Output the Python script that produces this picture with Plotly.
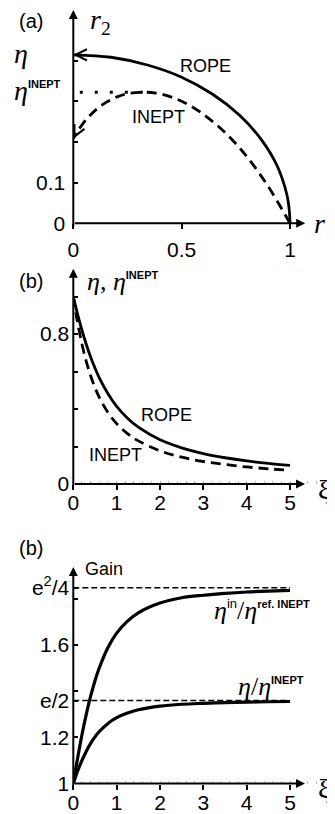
import plotly.graph_objects as go

# ---------------- data ----------------
# Panel (a): trajectories in the (r1, r2) plane
rope_r1 = [1.000, 0.996, 0.985, 0.940, 0.866, 0.766, 0.643, 0.500, 0.342, 0.174, 0.000]
rope_r2 = [0.000, 0.036, 0.072, 0.142, 0.207, 0.266, 0.317, 0.359, 0.389, 0.408, 0.414]
inept_r1 = [1.000, 0.900, 0.802, 0.708, 0.617, 0.532, 0.453, 0.380, 0.322, 0.253,
            0.199, 0.151, 0.109, 0.073, 0.042, 0.016, 0.000]
inept_r2 = [0.000, 0.090, 0.163, 0.219, 0.261, 0.291, 0.310, 0.320, 0.322, 0.319,
            0.310, 0.297, 0.281, 0.263, 0.243, 0.223, 0.208]
eta_level = 0.414
eta_inept_level = 0.322
inept_end = 0.208
dotted_r1 = [0.03, 0.322]
a_xticks = [0, 0.5, 1]
a_xticktext = ["0", "0.5", "1"]
a_yticks = [0, 0.1]
a_yticktext = ["0", "0.1"]
a_yminor = [0.2, 0.3, 0.4]

# Panel (b): efficiencies vs xi
xi = [0, 0.05, 0.1, 0.2, 0.3, 0.4, 0.5, 0.6, 0.8, 1.0, 1.25, 1.5, 2, 2.5, 3, 3.5, 4, 4.5, 5]
eta_rope = [1.000, 0.951, 0.905, 0.820, 0.744, 0.677, 0.618, 0.566, 0.481, 0.414,
            0.351, 0.303, 0.236, 0.193, 0.162, 0.140, 0.123, 0.110, 0.099]
eta_inept = [1.000, 0.926, 0.859, 0.745, 0.653, 0.577, 0.514, 0.462, 0.381, 0.322,
             0.269, 0.230, 0.177, 0.143, 0.120, 0.104, 0.091, 0.081, 0.073]
b_yticks = [0, 0.8]
b_yticktext = ["0", "0.8"]
b_yminor = [0.2, 0.4, 0.6, 1.0]

# Panel (c): gains vs xi
gain_ratio = [1.000, 1.028, 1.054, 1.100, 1.140, 1.174, 1.202, 1.225, 1.260, 1.285,
              1.305, 1.319, 1.335, 1.343, 1.347, 1.350, 1.352, 1.354, 1.355]
gain_in = [1.000, 1.056, 1.110, 1.211, 1.300, 1.378, 1.445, 1.501, 1.589, 1.651,
           1.703, 1.739, 1.781, 1.804, 1.815, 1.823, 1.829, 1.833, 1.836]
e_half = 1.359
e2_quarter = 1.847
limit_xi = [0, 5]
c_yticks = [1, 1.2, e_half, 1.6, e2_quarter]
c_yticktext = ["1", "1.2", "e/2", "1.6", "e<sup>2</sup>/4"]
c_yminor = [1.4, 1.8]
xi_ticks = [0, 1, 2, 3, 4, 5]
xi_ticktext = ["0", "1", "2", "3", "4", "5"]

# ---------------- layout helpers ----------------
W, H = 335, 814
OFF = 8                            # page body margin of the html page (px)
ORIG_X = 73.3                      # screen column of all y axes
SXA, SYA = 216.7, 407.0            # px per unit, panel (a)
SXB, SYB = 43.35, 187.5            # px per unit, panel (b)
SYC = 231.0                        # px per unit, panel (c) y
A_BOT, B_BOT, C_BOT = 223.3, 484.0, 783.5
A_TOP, B_TOP, C_TOP = float(OFF), 264.0, 562.0
SANS = "Liberation Sans"
SERIF = "Liberation Serif"


def px(p):
    return (p - OFF) / W


def py(p):
    return 1 - (p - OFF) / H


X0 = px(ORIG_X)
fig = go.Figure()

solid = dict(color="black", width=2.8)
dashed = dict(color="black", width=2.8, dash="10px,6px")

# panel (a)
fig.add_trace(go.Scatter(x=rope_r1, y=rope_r2, mode="lines", line=dict(solid, shape="spline"),
                         xaxis="x", yaxis="y", hoverinfo="skip"))
fig.add_trace(go.Scatter(x=inept_r1, y=inept_r2, mode="lines", line=dict(dashed, shape="spline"),
                         xaxis="x", yaxis="y", hoverinfo="skip"))
fig.add_trace(go.Scatter(x=dotted_r1, y=[eta_inept_level] * 2, mode="lines",
                         line=dict(color="black", width=3, dash="3px,12px"),
                         xaxis="x", yaxis="y", hoverinfo="skip"))

# panel (b)
fig.add_trace(go.Scatter(x=xi, y=eta_rope, mode="lines", line=dict(solid, shape="spline"),
                         xaxis="x2", yaxis="y2", hoverinfo="skip"))
fig.add_trace(go.Scatter(x=xi, y=eta_inept, mode="lines", line=dict(dashed, shape="spline"),
                         xaxis="x2", yaxis="y2", hoverinfo="skip"))

# panel (c)
thin_dash = dict(color="black", width=1.5, dash="6px,3px")
fig.add_trace(go.Scatter(x=limit_xi, y=[e2_quarter] * 2, mode="lines", line=thin_dash,
                         xaxis="x3", yaxis="y3", hoverinfo="skip"))
fig.add_trace(go.Scatter(x=limit_xi, y=[e_half] * 2, mode="lines", line=thin_dash,
                         xaxis="x3", yaxis="y3", hoverinfo="skip"))
fig.add_trace(go.Scatter(x=xi, y=gain_in, mode="lines",
                         line=dict(color="black", width=3.2, shape="spline"),
                         xaxis="x3", yaxis="y3", hoverinfo="skip"))
fig.add_trace(go.Scatter(x=xi, y=gain_ratio, mode="lines",
                         line=dict(color="black", width=3.2, shape="spline"),
                         xaxis="x3", yaxis="y3", hoverinfo="skip"))

tickfont = dict(family=SANS, size=21, color="black")
common = dict(showgrid=False, zeroline=False, showline=False, tickcolor="black",
              tickwidth=2, tickfont=tickfont, tickmode="array", automargin=False)

x_right = W + OFF                  # screen x of the figure's right edge
xa_range = [0, (x_right - ORIG_X) / SXA]
xb_range = [0, (x_right - ORIG_X) / SXB]
ya_range = [0, (A_BOT - A_TOP) / SYA]
yb_range = [0, (B_BOT - B_TOP) / SYB]
yc_range = [1, 1 + (C_BOT - C_TOP) / SYC]

x_minor = dict(ticks="inside", dtick=0.2, tick0=0, ticklen=3, tickcolor="#b8b8b8", tickwidth=1)


def y_minor(vals):
    return dict(tickmode="array", tickvals=vals, ticks="inside", ticklen=5, tickwidth=2,
                tickcolor="black")


fig.update_layout(
    width=W, height=H, margin=dict(l=0, r=0, t=0, b=0, pad=0, autoexpand=False),
    paper_bgcolor="white", plot_bgcolor="white", showlegend=False,
    xaxis=dict(common, domain=[X0, 1], range=xa_range, anchor="y", ticks="outside", ticklen=5,
               tickvals=a_xticks, ticktext=a_xticktext, ticklabelstandoff=2),
    yaxis=dict(common, domain=[py(A_BOT), py(A_TOP)], range=ya_range, anchor="x", ticks="inside",
               ticklen=5, tickvals=a_yticks, ticktext=a_yticktext, ticklabelstandoff=7,
               minor=y_minor(a_yminor)),
    yaxis4=dict(showgrid=False, zeroline=False, showline=False, overlaying="y", anchor="x",
                side="left", range=ya_range, tickmode="array", tickvals=[eta_level, eta_inept_level],
                ticks="outside", ticklen=8, tickwidth=2, tickcolor="black", showticklabels=False),
    xaxis2=dict(common, domain=[X0, 1], range=xb_range, anchor="y2", ticks="outside", ticklen=5,
                tickvals=xi_ticks, ticktext=xi_ticktext, ticklabelstandoff=-5, minor=x_minor),
    yaxis2=dict(common, domain=[py(B_BOT), py(B_TOP)], range=yb_range, anchor="x2", ticks="inside",
                ticklen=5, tickvals=b_yticks, ticktext=b_yticktext, ticklabelstandoff=3,
                minor=y_minor(b_yminor)),
    xaxis3=dict(common, domain=[X0, 1], range=xb_range, anchor="y3", ticks="outside", ticklen=5,
                tickvals=xi_ticks, ticktext=xi_ticktext, ticklabelstandoff=-5, minor=x_minor),
    yaxis3=dict(common, domain=[py(C_BOT), py(C_TOP)], range=yc_range, anchor="x3", ticks="inside",
                ticklen=5, tickvals=c_yticks, ticktext=c_yticktext, ticklabelstandoff=3,
                minor=y_minor(c_yminor)),
)

ann = []


def arrow(head_x, head_y, dx_px, dy_px, head=2, size=0.9, width=2):
    """Arrow whose head sits at screen pixel (head_x, head_y); tail given as pixel offset."""
    ann.append(dict(xref="paper", yref="paper", x=px(head_x), y=py(head_y), ax=dx_px, ay=dy_px,
                    text="", showarrow=True, arrowhead=head, arrowsize=size, arrowwidth=width,
                    arrowcolor="black", standoff=0))


# axes with arrows (head positions from the axis scales)
arrow(ORIG_X + 1.07 * SXA, A_BOT, -1.07 * SXA, 0)
arrow(ORIG_X, A_BOT - 0.524 * SYA, 0, (0.524 + 0.012) * SYA)
arrow(ORIG_X + 5.345 * SXB, B_BOT, -5.345 * SXB, 0)
arrow(ORIG_X, B_BOT - 1.148 * SYB, 0, (1.148 + 0.016) * SYB)
arrow(ORIG_X + 5.345 * SXB, C_BOT, -5.345 * SXB, 0)
arrow(ORIG_X, C_BOT - (1.937 - 1) * SYC, 0, (1.937 - 0.987) * SYC)

# curve arrowheads in panel (a)
arrow(ORIG_X, A_BOT - eta_level * SYA, 6, 0, head=5, size=1, width=2.2)
arrow(ORIG_X, A_BOT - inept_end * SYA, 3, -6, head=5, size=1, width=2.2)


def txt(s, x, y, size, family=SANS, xanchor="center", yanchor="middle"):
    ann.append(dict(xref="paper", yref="paper", x=px(x), y=py(y), text=s, showarrow=False,
                    xanchor=xanchor, yanchor=yanchor,
                    font=dict(family=family, size=size, color="black")))


SUP = "<sup><span style='font-family:Liberation Sans;font-size:11px'><b>{}</b></span></sup>"
SUPN = "<sup><span style='font-family:Liberation Sans;font-size:13px'>{}</span></sup>"

# panel (a) text
txt("(a)", 31, 21, 20)
txt("<i>r</i><sub>2</sub>", 88, 22, 28, SERIF, xanchor="left")
txt("<i>r</i><sub>1</sub>", 312, 225, 28, SERIF, xanchor="left")
txt("<i>η</i>", 12, 54, 28, SERIF, xanchor="left")
txt("<i>η</i>" + SUP.format("INEPT"), 12, 90, 28, SERIF, xanchor="left")
txt("ROPE", 205, 66, 18)
txt("INEPT", 158, 117, 18)

# panel (b) text
txt("(b)", 31, 281, 20)
txt("<i>η</i>, <i>η</i>" + SUP.format("INEPT"), 85, 281, 26, SERIF, xanchor="left")
txt("ROPE", 166, 415, 18)
txt("INEPT", 115, 455, 18)
txt("ξ", 324, 490, 28, SERIF)

# panel (c) text
txt("(b)", 31, 548, 20)
txt("Gain", 83, 569, 18, xanchor="left")
txt("<i>η</i>" + SUPN.format("in") + "/<i>η</i>" + SUP.format("ref. INEPT"), 212, 610, 26, SERIF,
    xanchor="left")
txt("<i>η</i>/<i>η</i>" + SUP.format("INEPT"), 236, 686, 26, SERIF, xanchor="left")
txt("ξ", 324, 788, 28, SERIF)

fig.update_layout(annotations=ann)
fig.write_html("out.html")
